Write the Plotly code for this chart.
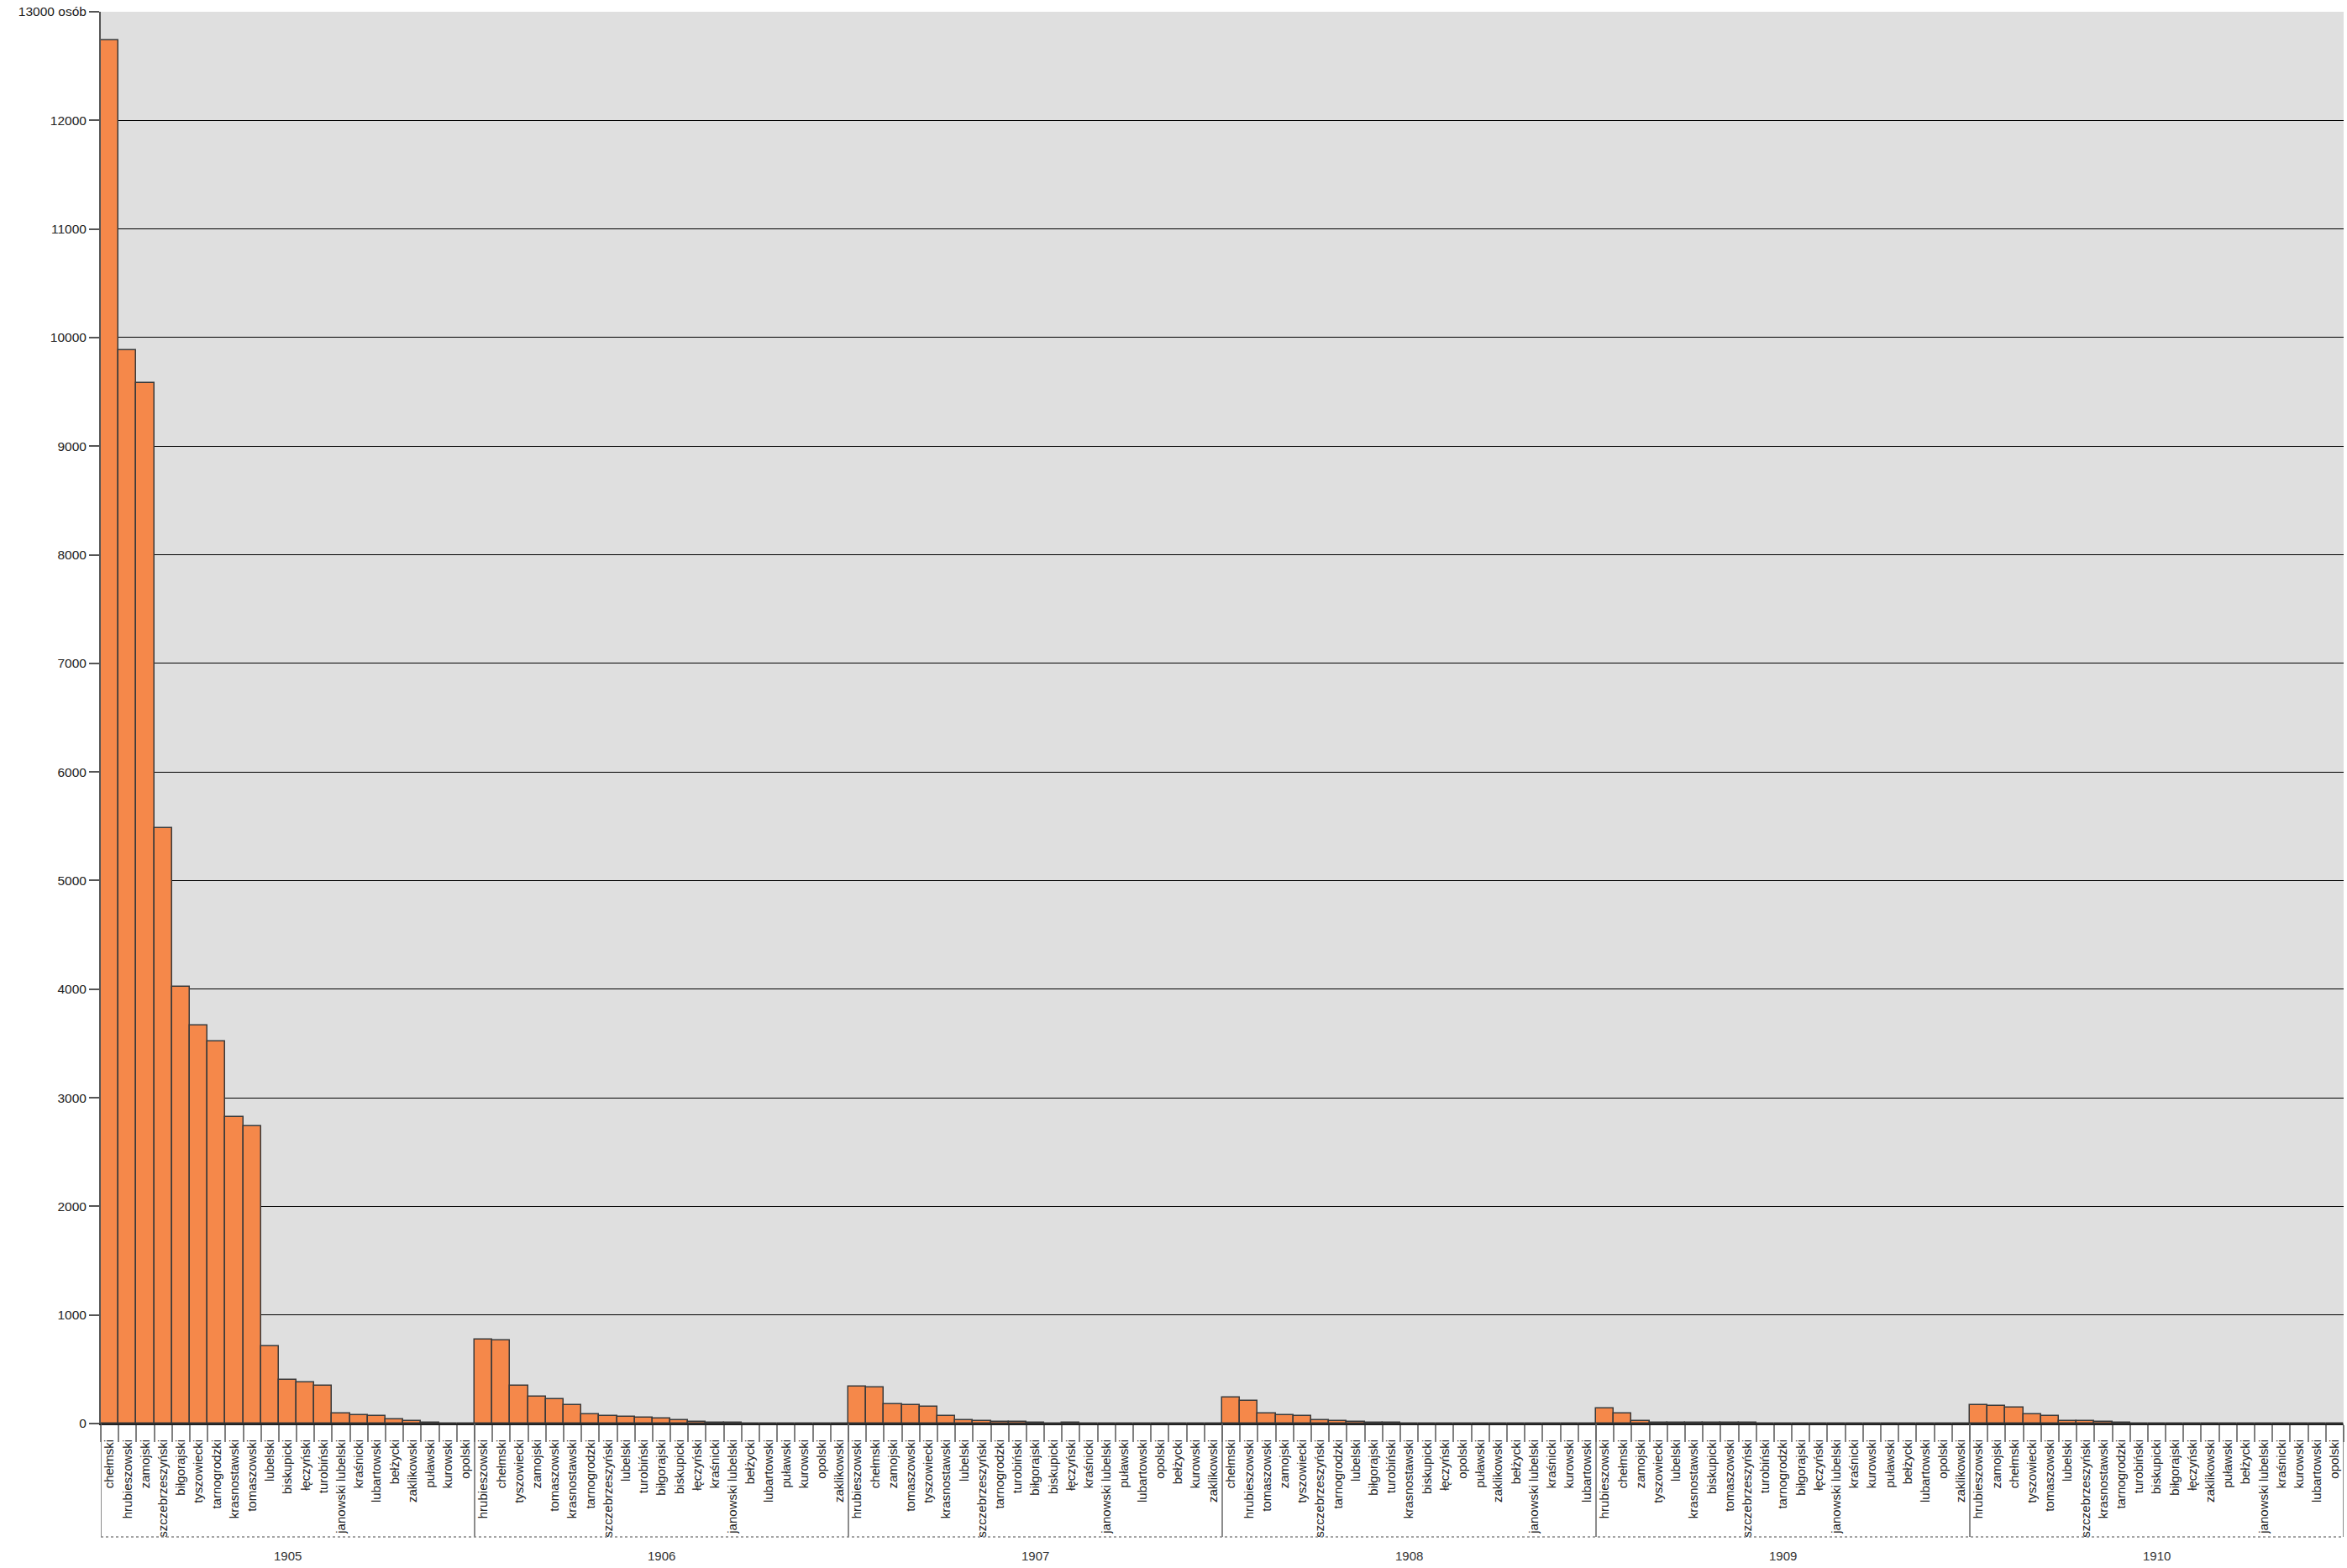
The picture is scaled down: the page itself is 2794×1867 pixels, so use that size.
import plotly.graph_objects as go

years = ["1905", "1906", "1907", "1908", "1909", "1910"]

names_1905 = ["chełmski", "hrubieszowski", "zamojski", "szczebrzeszyński", "biłgorajski", "tyszowiecki",
              "tarnogrodzki", "krasnostawski", "tomaszowski", "lubelski", "biskupicki", "łęczyński",
              "turobiński", "janowski lubelski", "kraśnicki", "lubartowski", "bełżycki", "zaklikowski",
              "puławski", "kurowski", "opolski"]
values_1905 = [12740, 9880, 9580, 5485, 4025, 3665, 3515, 2825, 2740, 715, 400, 380, 350, 92, 80, 72,
               41, 20, 8, 3, 3]

names_1906 = ["hrubieszowski", "chełmski", "tyszowiecki", "zamojski", "tomaszowski", "krasnostawski",
              "tarnogrodzki", "szczebrzeszyński", "lubelski", "turobiński", "biłgorajski", "biskupicki",
              "łęczyński", "kraśnicki", "janowski lubelski", "bełżycki", "lubartowski", "puławski",
              "kurowski", "opolski", "zaklikowski"]
values_1906 = [772, 764, 345, 249, 223, 171, 83, 67, 65, 52, 44, 34, 18, 5, 5, 1, 1, 1, 2, 0, 0]

names_1907 = ["hrubieszowski", "chełmski", "zamojski", "tomaszowski", "tyszowiecki", "krasnostawski",
              "lubelski", "szczebrzeszyński", "tarnogrodzki", "turobiński", "biłgorajski", "biskupicki",
              "łęczyński", "kraśnicki", "janowski lubelski", "puławski", "lubartowski", "opolski",
              "bełżycki", "kurowski", "zaklikowski"]
values_1907 = [342, 334, 179, 168, 153, 73, 31, 21, 18, 18, 10, 3, 5, 1, 1, 1, 2, 2, 0, 0, 0]

names_1908 = ["chełmski", "hrubieszowski", "tomaszowski", "zamojski", "tyszowiecki", "szczebrzeszyński",
              "tarnogrodzki", "lubelski", "biłgorajski", "turobiński", "krasnostawski", "biskupicki",
              "łęczyński", "opolski", "puławski", "zaklikowski", "bełżycki", "janowski lubelski",
              "kraśnicki", "kurowski", "lubartowski"]
values_1908 = [238, 205, 91, 75, 73, 28, 21, 13, 8, 8, 1, 1, 1, 1, 2, 1, 0, 0, 0, 0, 0]

names_1909 = ["hrubieszowski", "chełmski", "zamojski", "tyszowiecki", "lubelski", "krasnostawski",
              "biskupicki", "tomaszowski", "szczebrzeszyński", "turobiński", "tarnogrodzki", "biłgorajski",
              "łęczyński", "janowski lubelski", "kraśnicki", "kurowski", "puławski", "bełżycki",
              "lubartowski", "opolski", "zaklikowski"]
values_1909 = [140, 93, 21, 10, 10, 4, 4, 4, 4, 3, 1, 1, 1, 1, 1, 1, 1, 0, 0, 0, 0]

names_1910 = ["hrubieszowski", "zamojski", "chełmski", "tyszowiecki", "tomaszowski", "lubelski",
              "szczebrzeszyński", "krasnostawski", "tarnogrodzki", "turobiński", "biskupicki", "biłgorajski",
              "łęczyński", "zaklikowski", "puławski", "bełżycki", "janowski lubelski", "kraśnicki",
              "kurowski", "lubartowski", "opolski"]
values_1910 = [171, 163, 145, 88, 67, 21, 21, 16, 10, 3, 3, 1, 1, 1, 1, 0, 0, 0, 0, 0, 0]

y_tickvals = list(range(0, 13001, 1000))
y_ticktext = [str(v) for v in y_tickvals[:-1]] + ["13000 osób"]

groups = [names_1905, names_1906, names_1907, names_1908, names_1909, names_1910]
group_vals = [values_1905, values_1906, values_1907, values_1908, values_1909, values_1910]

all_names, all_vals, xs = [], [], []
bounds = []
pos = 0
for nm, vl in zip(groups, group_vals):
    start = pos
    for n, v in zip(nm, vl):
        all_names.append(n)
        all_vals.append(v)
        xs.append(pos)
        pos += 1
    bounds.append((start - 0.5, pos - 0.5))

fig = go.Figure()
fig.add_trace(go.Bar(
    x=xs, y=all_vals, width=1.0,
    marker=dict(color="#F5884A", line=dict(color="#3a3a3a", width=1.5)),
    hoverinfo="x+y",
))

W, H = 2794, 1867
ml, mr, mt, mb = 120, 4, 14, 172
plot_h = H - mt - mb
sep_bottom = -(1830 - (H - mb)) / plot_h
year_y = -(1853 - (H - mb)) / plot_h

shapes = []
for (a, b) in bounds:
    shapes.append(dict(type="line", xref="x", yref="paper", x0=a, x1=a, y0=0, y1=sep_bottom,
                       line=dict(color="#666666", width=1.5)))
shapes.append(dict(type="line", xref="x", yref="paper", x0=bounds[-1][1], x1=bounds[-1][1], y0=0,
                   y1=sep_bottom, line=dict(color="#666666", width=1.5)))
shapes.append(dict(type="line", xref="paper", yref="paper", x0=0, x1=1, y0=sep_bottom, y1=sep_bottom,
                   line=dict(color="#888888", width=1.5, dash="dot")))

annotations = []
for yr, (a, b) in zip(years, bounds):
    annotations.append(dict(x=(a + b) / 2, y=year_y, xref="x", yref="paper", text=yr, showarrow=False,
                            font=dict(size=15, color="#333333"), xanchor="center", yanchor="middle"))

fig.update_layout(
    width=W, height=H,
    margin=dict(l=ml, r=mr, t=mt, b=mb, pad=0),
    paper_bgcolor="white",
    plot_bgcolor="#DFDFDF",
    font=dict(family="Liberation Sans, Arial, sans-serif", color="#222222"),
    showlegend=False,
    bargap=0,
    shapes=shapes,
    annotations=annotations,
    xaxis=dict(
        range=[-0.5, pos - 0.5],
        tickmode="array", tickvals=xs, ticktext=all_names,
        tickangle=-90, ticks="", tickfont=dict(size=15, color="#222222"),
        ticklabelstandoff=11,
        showgrid=False, zeroline=False,
        showline=True, linecolor="#222222", linewidth=2,
        minor=dict(tick0=-0.5, dtick=1, ticks="outside", ticklen=20, tickcolor="#808080",
                   tickwidth=1.5, showgrid=False),
    ),
    yaxis=dict(
        range=[0, 13000],
        tickmode="array", tickvals=y_tickvals, ticktext=y_ticktext,
        ticks="outside", ticklen=12, tickcolor="#555555", tickwidth=1.5,
        tickfont=dict(size=15.5, color="#222222"),
        showgrid=True, gridcolor="#000000", gridwidth=1.2,
        zeroline=False,
        showline=True, linecolor="#555555", linewidth=2,
    ),
)

fig.write_html("out.html", config={"displayModeBar": False},
               post_script="document.body.style.margin='0';document.body.style.overflow='hidden';")
